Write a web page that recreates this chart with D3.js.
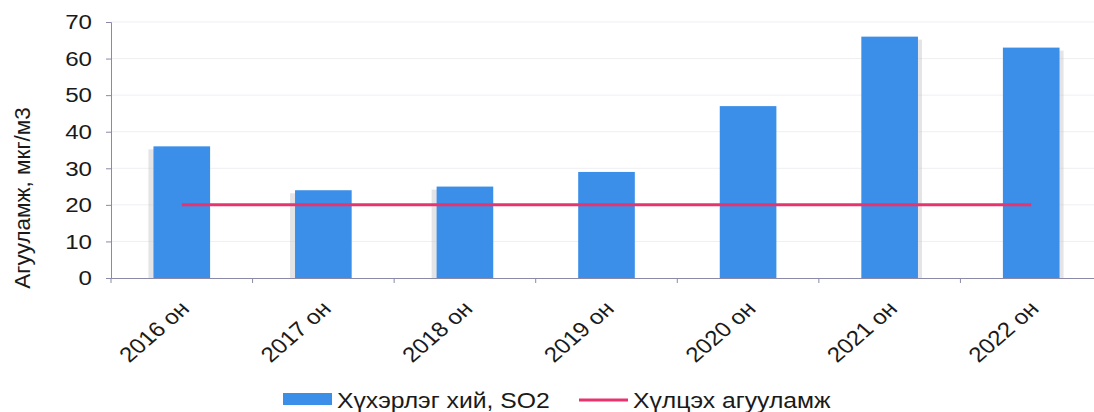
<!DOCTYPE html>
<html><head><meta charset="utf-8">
<script src="https://cdn.jsdelivr.net/npm/d3@7"></script>
<style>body{margin:0;background:#fff}svg{display:block;font-family:"Liberation Sans",Arial,sans-serif}</style>
</head><body><svg id="c" width="1094" height="412"></svg>
<script>
const categories = ["2016 он","2017 он","2018 он","2019 он","2020 он","2021 он","2022 он"];
const so2Values = [36, 24, 25, 29, 47, 66, 63];
const limitValues = [20, 20, 20, 20, 20, 20, 20];
const yTicks = [0,10,20,30,40,50,60,70];
const seriesNames = ["Хүхэрлэг хий, SO2", "Хүлцэх агууламж"];
const yTitle = "Агууламж, мкг/м3";

const svg = d3.select("#c");
const mLeft = 111, mRight = 1102, mTop = 22, mBottom = 278;
const SX = 1.15; // horizontal text stretch of the scan
const x = d3.scaleBand().domain(categories).range([mLeft, mRight]).paddingInner(0.6).paddingOuter(0.3);
const xb = d3.scaleBand().domain(categories).range([mLeft, mRight]);
const y = d3.scaleLinear().domain([0,70]).range([mBottom, mTop]);

// grid
svg.append("g").selectAll("line").data(yTicks.slice(1)).join("line")
  .attr("x1", mLeft).attr("x2", 1094).attr("y1", d=>y(d)).attr("y2", d=>y(d))
  .attr("stroke", "#efeff3").attr("stroke-width", 1);

// bar shadows
const shadowOff = [-5,-5,-5,0,0,4,4];
svg.append("g").selectAll("rect").data(so2Values).join("rect")
  .attr("x", (d,i)=> x(categories[i]) + shadowOff[i])
  .attr("y", d=>y(d)+3).attr("width", x.bandwidth()).attr("height", d=>mBottom-y(d)-3)
  .attr("fill", "#c4c4c8").attr("opacity", (d,i)=> shadowOff[i]===0 ? 0 : 0.45);

// bars
svg.append("g").selectAll("rect.b").data(so2Values).join("rect")
  .attr("x", (d,i)=>x(categories[i])).attr("y", d=>y(d))
  .attr("width", x.bandwidth()).attr("height", d=>mBottom-y(d))
  .attr("fill", "#3b8fe8");

// y axis
const ya = svg.append("g").attr("transform", `translate(${mLeft},0)`)
  .call(d3.axisLeft(y).tickValues(yTicks).tickSize(5).tickPadding(14));
ya.select(".domain").attr("stroke", "#8a8aa8");
ya.selectAll(".tick line").attr("stroke", "#8a8aa8");
ya.selectAll(".tick text").attr("font-size", 21).attr("fill", "#1a1a1a")
  .attr("x", -19/SX).attr("transform", `scale(${SX},1)`)
  .attr("font-family", "Liberation Sans, Arial, sans-serif");

// x axis
const xa = svg.append("g").attr("transform", `translate(0,${mBottom})`)
  .call(d3.axisBottom(xb).tickSize(0).tickFormat(""));
xa.select(".domain").attr("stroke", "#8a8aa8");
svg.append("g").selectAll("line").data(categories).join("line")
  .attr("x1", d=>xb(d)).attr("x2", d=>xb(d)).attr("y1", mBottom).attr("y2", mBottom+5)
  .attr("stroke", "#8a8aa8");
svg.append("g").selectAll("text").data(categories).join("text")
  .attr("transform", d=>`translate(${x(d)+x.bandwidth()/2+9},${mBottom+32}) scale(${SX},1) rotate(-45)`)
  .attr("text-anchor", "end").attr("font-size", 21).attr("fill", "#1a1a1a").text(d=>d);

// limit line
const line = d3.line().x((d,i)=>x(categories[i])+x.bandwidth()/2).y(d=>y(d));
svg.append("path").datum(limitValues).attr("d", line)
  .attr("fill", "none").attr("stroke", "#e8336e").attr("stroke-width", 3);

// y title
svg.append("text").attr("transform", `translate(30,198) rotate(-90)`)
  .attr("text-anchor", "middle").attr("font-size", 22.5).attr("fill", "#1a1a1a").text(yTitle);

// legend
const lg = svg.append("g");
lg.append("rect").attr("x", 283).attr("y", 393).attr("width", 49).attr("height", 12).attr("fill", "#3b8fe8");
lg.append("text").attr("transform", `translate(337,408) scale(${SX},1)`).attr("font-size", 21.5).attr("fill", "#1a1a1a").text(seriesNames[0]);
lg.append("line").attr("x1", 579).attr("x2", 628).attr("y1", 400).attr("y2", 400).attr("stroke", "#e8336e").attr("stroke-width", 3);
lg.append("text").attr("transform", `translate(633,408) scale(${SX},1)`).attr("font-size", 21.5).attr("fill", "#1a1a1a").text(seriesNames[1]);
</script></body></html>
